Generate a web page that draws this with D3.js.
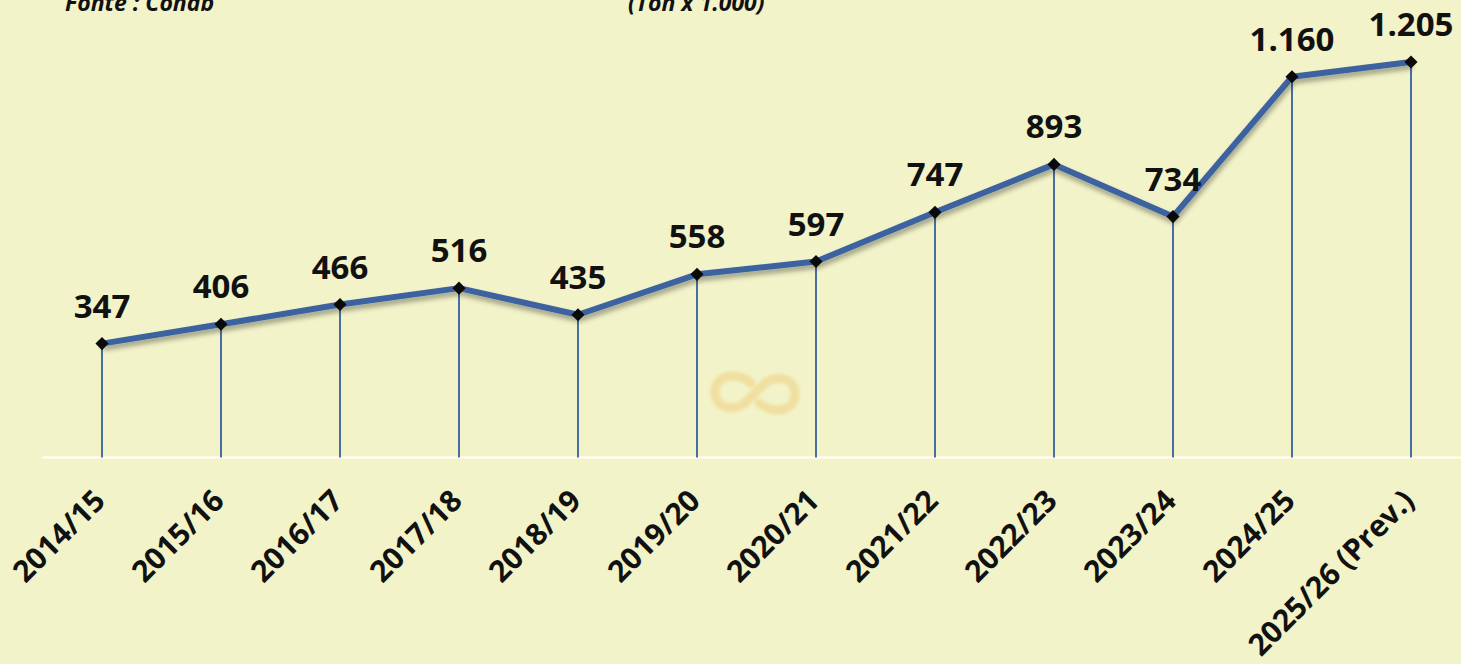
<!DOCTYPE html>
<html>
<head>
<meta charset="utf-8">
<script src="https://cdn.jsdelivr.net/npm/d3@7"></script>
<style>
  html, body { margin: 0; padding: 0; background: #f2f3c8; }
  svg { display: block; }
  text { font-family: "Open Sans", "DejaVu Sans", sans-serif; }
</style>
</head>
<body>
<svg id="chart"></svg>
<script>
// Safras (Ton x 1.000) — Fonte: Conab
const safras = ["2014/15", "2015/16", "2016/17", "2017/18", "2018/19", "2019/20",
  "2020/21", "2021/22", "2022/23", "2023/24", "2024/25", "2025/26 (Prev.)"];
const valores = [347, 406, 466, 516, 435, 558, 597, 747, 893, 734, 1160, 1205];
const rotulos = ["347", "406", "466", "516", "435", "558", "597", "747", "893", "734", "1.160", "1.205"];

(function () {
  const width = 1461, height = 664;
  const svg = d3.select("#chart").attr("width", width).attr("height", height);

  svg.append("rect").attr("width", width).attr("height", height).attr("fill", "#f2f3c8");

  const defs = svg.append("defs");
  const f = defs.append("filter").attr("id", "sombra")
    .attr("x", "-5%").attr("y", "-20%").attr("width", "110%").attr("height", "140%");
  f.append("feDropShadow").attr("dx", 1).attr("dy", 4).attr("stdDeviation", 2.5)
    .attr("flood-color", "#000").attr("flood-opacity", 0.35);
  const lf = defs.append("filter").attr("id", "blur")
    .attr("x", "-20%").attr("y", "-30%").attr("width", "140%").attr("height", "160%");
  lf.append("feGaussianBlur").attr("stdDeviation", 1.8);

  const x = d3.scalePoint().domain(safras).range([102, 1411]);
  const y = d3.scaleLinear().domain([0, 1205]).range([457.5, 62]);

  // header texts (cut at top, as in the source image)
  svg.append("text").attr("x", 65).attr("y", 11)
    .attr("font-size", 23).attr("font-weight", "bold").attr("font-style", "italic")
    .attr("fill", "#111").text("Fonte : Conab");
  svg.append("text").attr("x", 628).attr("y", 11)
    .attr("font-size", 23).attr("font-weight", "bold").attr("font-style", "italic")
    .attr("fill", "#111").text("(Ton x 1.000)");

  // faint logo watermark
  const logo = svg.append("g").attr("transform", "translate(755,393)")
    .attr("filter", "url(#blur)").attr("opacity", 0.55);
  logo.append("path")
    .attr("d", "M-4,-10 C-16,-21 -40,-20 -40,-1 C-40,17 -18,19 -8,8 L8,-8 C18,-19 40,-17 40,1 C40,20 16,21 4,10")
    .attr("fill", "none").attr("stroke", "#efcf80").attr("stroke-width", 9)
    .attr("stroke-linecap", "round");

  // baseline
  svg.append("line").attr("x1", 42).attr("x2", width).attr("y1", y(0)).attr("y2", y(0))
    .attr("stroke", "#ffffff").attr("stroke-width", 2);

  // drop lines
  svg.append("g").selectAll("line").data(valores).join("line")
    .attr("x1", (d, i) => x(safras[i])).attr("x2", (d, i) => x(safras[i]))
    .attr("y1", (d) => y(d)).attr("y2", y(0))
    .attr("stroke", "#34609e").attr("stroke-width", 1.8);

  // series line
  const linha = d3.line().x((d, i) => x(safras[i])).y((d) => y(d));
  svg.append("path").datum(valores).attr("d", linha)
    .attr("fill", "none").attr("stroke", "#3d62a0").attr("stroke-width", 6)
    .attr("stroke-linejoin", "round").attr("filter", "url(#sombra)");

  // diamond markers
  const sym = d3.symbol().type(d3.symbolDiamond2).size(110);
  svg.append("g").selectAll("path").data(valores).join("path")
    .attr("d", sym)
    .attr("transform", (d, i) => `translate(${x(safras[i])},${y(d)})`)
    .attr("fill", "#0a0a0a");

  // value labels
  svg.append("g").selectAll("text").data(valores).join("text")
    .attr("x", (d, i) => x(safras[i]))
    .attr("y", (d) => y(d) - 26)
    .attr("text-anchor", "middle")
    .attr("font-size", 33).attr("font-weight", "bold").attr("fill", "#111")
    .text((d, i) => rotulos[i]);

  // x-axis labels rotated
  svg.append("g").selectAll("text").data(safras).join("text")
    .attr("transform", (d) => `translate(${x(d) + 5},${y(0) + 45}) rotate(-45)`)
    .attr("text-anchor", "end")
    .attr("font-size", 30).attr("font-weight", "bold").attr("fill", "#111")
    .text((d) => d);
})();
</script>
</body>
</html>
